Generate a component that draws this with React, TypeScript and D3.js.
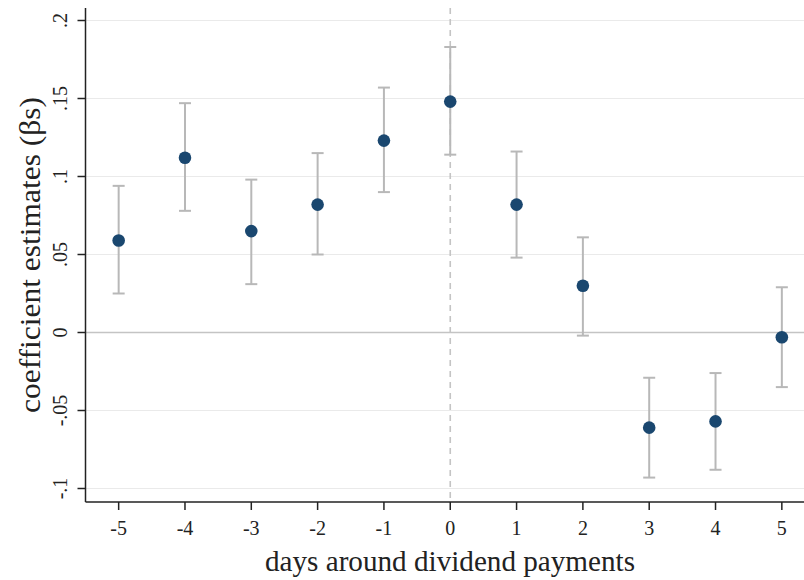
import React from "react";
import * as d3 from "d3";

const days = [-5, -4, -3, -2, -1, 0, 1, 2, 3, 4, 5];
const estimates = [0.059, 0.112, 0.065, 0.082, 0.123, 0.148, 0.082, 0.030, -0.061, -0.057, -0.003];
const ciLow = [0.025, 0.078, 0.031, 0.050, 0.090, 0.114, 0.048, -0.002, -0.093, -0.088, -0.035];
const ciHigh = [0.094, 0.147, 0.098, 0.115, 0.157, 0.183, 0.116, 0.061, -0.029, -0.026, 0.029];
const yTicks = [-0.1, -0.05, 0, 0.05, 0.1, 0.15, 0.2];
const yTickLabels = ["-.1", "-.05", "0", ".05", ".1", ".15", ".2"];
const xTickLabels = ["-5", "-4", "-3", "-2", "-1", "0", "1", "2", "3", "4", "5"];

const W = 804;
const H = 580;
const left = 85.5;
const right = 815;
const top = 8;
const bottom = 502;

export default function App() {
  const x = d3.scaleLinear().domain([-5.5, 5.5]).range([left, right]);
  const y = d3.scaleLinear().domain([0, 0.2]).range([332.5, 20.5]);
  const font = "'Liberation Serif', 'DejaVu Serif', serif";
  const navy = "#1a476f";
  const ciColor = "#b8b8b8";
  return (
    <svg width={W} height={H} style={{ position: "absolute", left: 0, top: 0, background: "#fff" }}>
      <rect x={0} y={0} width={W} height={H} fill="#fff" />
      {yTicks.map((t, i) =>
        t === 0 ? null : (
          <line key={"g" + i} x1={left} x2={W} y1={y(t)} y2={y(t)} stroke="#eaeaea" strokeWidth={1.2} />
        )
      )}
      <line x1={left} x2={W} y1={y(0)} y2={y(0)} stroke="#c4c4c4" strokeWidth={1.6} />
      <line x1={x(0)} x2={x(0)} y1={top} y2={bottom} stroke="#c4c4c4" strokeWidth={1.6} strokeDasharray="6,5" />
      {days.map((d, i) => (
        <g key={"ci" + i} stroke={ciColor} strokeWidth={2}>
          <line x1={x(d)} x2={x(d)} y1={y(ciLow[i])} y2={y(ciHigh[i])} />
          <line x1={x(d) - 6} x2={x(d) + 6} y1={y(ciLow[i])} y2={y(ciLow[i])} />
          <line x1={x(d) - 6} x2={x(d) + 6} y1={y(ciHigh[i])} y2={y(ciHigh[i])} />
        </g>
      ))}
      {days.map((d, i) => (
        <circle key={"p" + i} cx={x(d)} cy={y(estimates[i])} r={6.3} fill={navy} />
      ))}
      <line x1={left} x2={left} y1={top} y2={bottom} stroke="#222" strokeWidth={1.5} />
      <line x1={left} x2={W} y1={bottom} y2={bottom} stroke="#222" strokeWidth={1.5} />
      {yTicks.map((t, i) => (
        <g key={"yt" + i}>
          <line x1={left - 8} x2={left} y1={y(t)} y2={y(t)} stroke="#222" strokeWidth={1.5} />
          <text
            transform={`translate(67,${y(t)}) rotate(-90)`}
            textAnchor="middle"
            fontFamily={font}
            fontSize={20}
            fill="#222"
          >
            {yTickLabels[i]}
          </text>
        </g>
      ))}
      {days.map((d, i) => (
        <g key={"xt" + i}>
          <line x1={x(d)} x2={x(d)} y1={bottom} y2={bottom + 8} stroke="#222" strokeWidth={1.5} />
          <text x={x(d)} y={535} textAnchor="middle" fontFamily={font} fontSize={20} fill="#222">
            {xTickLabels[i]}
          </text>
        </g>
      ))}
      <text
        x={450}
        y={571}
        textAnchor="middle"
        fontFamily={font}
        fontSize={29}
        fill="#222"
        textLength={370}
        lengthAdjust="spacingAndGlyphs"
      >
        days around dividend payments
      </text>
      <text
        transform={`translate(40,255) rotate(-90)`}
        textAnchor="middle"
        fontFamily={font}
        fontSize={29}
        fill="#222"
        textLength={316}
        lengthAdjust="spacingAndGlyphs"
      >
        coefficient estimates (βs)
      </text>
    </svg>
  );
}
